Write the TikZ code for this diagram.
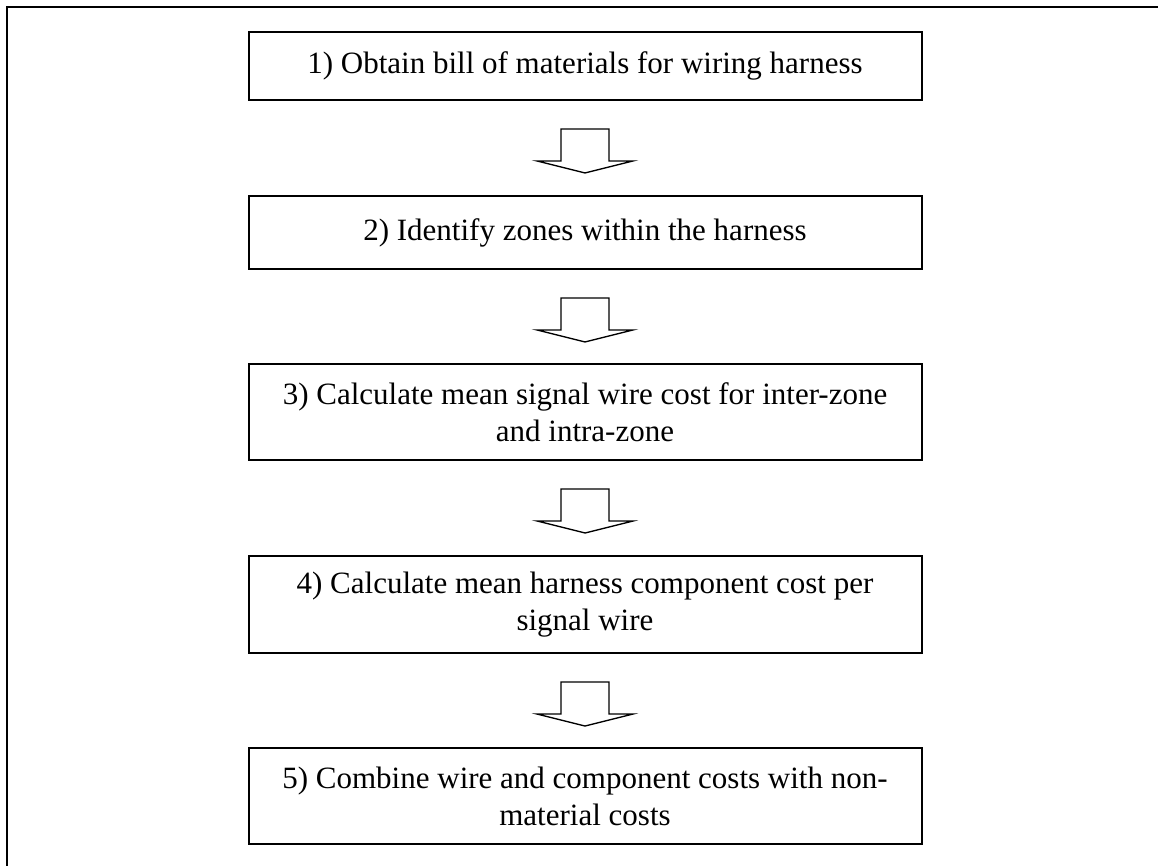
\documentclass[tikz,border=0pt]{standalone}
\usepackage{fontspec}
\setmainfont{Liberation Serif}
\usetikzlibrary{calc}
\begin{document}
\begin{tikzpicture}[x=0.75pt,y=-0.75pt,
  stepbox/.style={draw, line width=1.5pt, minimum width=504.75pt, align=center,
    inner sep=2pt, font=\fontsize{23.25pt}{27.75pt}\selectfont},
  blockarrow/.style={draw, line width=1pt},
  frameline/.style={draw, line width=1.5pt}]
\useasboundingbox (0,0) rectangle (1158,866);
\draw[frameline] (7,880) -- (7,7) -- (1170,7);
\node[stepbox, minimum height=51pt] (b1) at (585,66) {1) Obtain bill of materials for wiring harness};
\node[stepbox, minimum height=54.75pt] (b2) at (585,232.5) {2) Identify zones within the harness};
\node[stepbox, minimum height=72pt] (b3) at (585,412) {3) Calculate mean signal wire cost for inter-zone\\and intra-zone};
\node[stepbox, minimum height=72.75pt] (b4) at (585,604.5) {4) Calculate mean harness component cost per\\signal wire};
\node[stepbox, minimum height=72pt] (b5) at (585,796) {5) Combine wire and component costs with non-\\material costs};
\foreach \a in {b1,b2,b3,b4}{
  \draw[blockarrow] ($(\a.south)+(-24,28)$) -- ++(0,32) -- ++(-24,0) -- ++(48,12) -- ++(48,-12) -- ++(-24,0) -- ++(0,-32) -- cycle;
}
\end{tikzpicture}
\end{document}
